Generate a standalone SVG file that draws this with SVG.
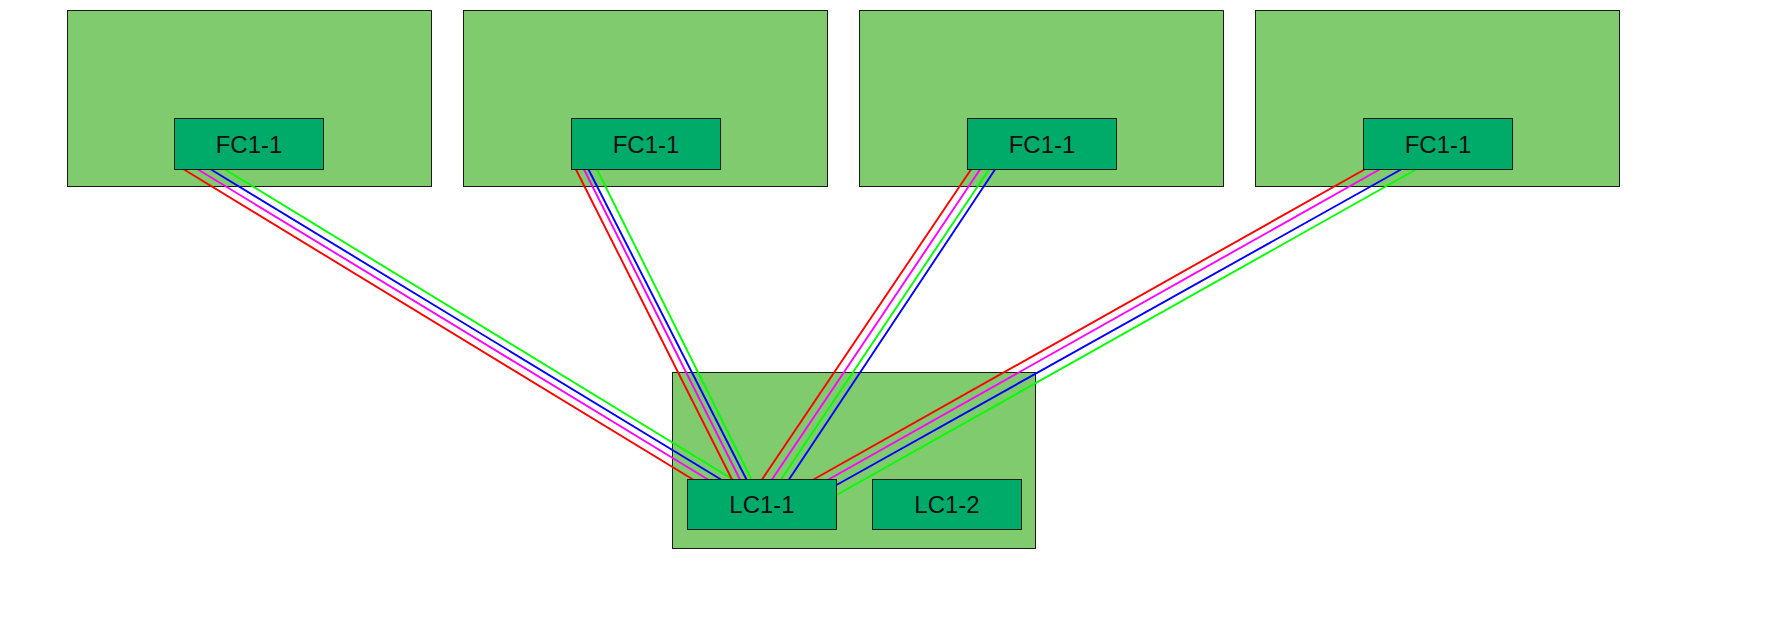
<svg xmlns="http://www.w3.org/2000/svg" width="1790" height="626" viewBox="0 0 1790 626">
<style>
.outer{fill:#7FCB6E;stroke:#1a1a1a;stroke-width:1}
.card{fill:#00AB6A;stroke:#1a1a1a;stroke-width:1}
.lbl{font-family:"Liberation Sans",Arial,sans-serif;font-size:24px;fill:#111;text-anchor:middle}
.c line{stroke-width:1.9;fill:none}
.r{stroke:#FF0000}.m{stroke:#FF00FF}.b{stroke:#0000FF}.g{stroke:#00FF00}
</style>
<rect width="1790" height="626" fill="#fff"/>
<g id="chassis1"><rect class="outer" x="67.5" y="10.5" width="364" height="176"/></g>
<g id="chassis2"><rect class="outer" x="463.5" y="10.5" width="364" height="176"/></g>
<g id="chassis3"><rect class="outer" x="859.5" y="10.5" width="364" height="176"/></g>
<g id="chassis4"><rect class="outer" x="1255.5" y="10.5" width="364" height="176"/></g>
<g id="chassisLC"><rect class="outer" x="672.5" y="372.5" width="363" height="176"/></g>
<g id="connectors" class="c">
<line class="r" x1="184" y1="169.5" x2="693" y2="479.5"/>
<line class="m" x1="198" y1="169.5" x2="708" y2="479.5"/>
<line class="b" x1="211" y1="169.5" x2="721" y2="479.5"/>
<line class="g" x1="225" y1="169.5" x2="733" y2="479.5"/>
<line class="r" x1="576" y1="169.5" x2="732" y2="479.5"/>
<line class="m" x1="584" y1="169.5" x2="740" y2="479.5"/>
<line class="b" x1="588.5" y1="169.5" x2="746.5" y2="479.5"/>
<line class="g" x1="597" y1="169.5" x2="751.5" y2="479.5"/>
<line class="r" x1="971" y1="169.5" x2="762" y2="479.5"/>
<line class="m" x1="980" y1="169.5" x2="772" y2="479.5"/>
<line class="g" x1="989" y1="169.5" x2="781" y2="479.5"/>
<line class="b" x1="995" y1="169.5" x2="789" y2="479.5"/>
<line class="r" x1="1364.5" y1="169.5" x2="813.5" y2="479.5"/>
<line class="m" x1="1379.5" y1="169.5" x2="828.5" y2="479.5"/>
<line class="b" x1="1401" y1="169.5" x2="836.5" y2="485"/>
<line class="g" x1="1416" y1="169.5" x2="836.5" y2="495"/>
</g>
<g id="fc1"><rect class="card" x="174.5" y="118.5" width="149" height="51"/><text class="lbl" x="249" y="152.7">FC1-1</text></g>
<g id="fc2"><rect class="card" x="571.5" y="118.5" width="149" height="51"/><text class="lbl" x="646" y="152.7">FC1-1</text></g>
<g id="fc3"><rect class="card" x="967.5" y="118.5" width="149" height="51"/><text class="lbl" x="1042" y="152.7">FC1-1</text></g>
<g id="fc4"><rect class="card" x="1363.5" y="118.5" width="149" height="51"/><text class="lbl" x="1438" y="152.7">FC1-1</text></g>
<g id="lc1"><rect class="card" x="687.5" y="479.5" width="149" height="50"/><text class="lbl" x="762" y="513.3">LC1-1</text></g>
<g id="lc2"><rect class="card" x="872.5" y="479.5" width="149" height="50"/><text class="lbl" x="947" y="513.3">LC1-2</text></g>
</svg>
